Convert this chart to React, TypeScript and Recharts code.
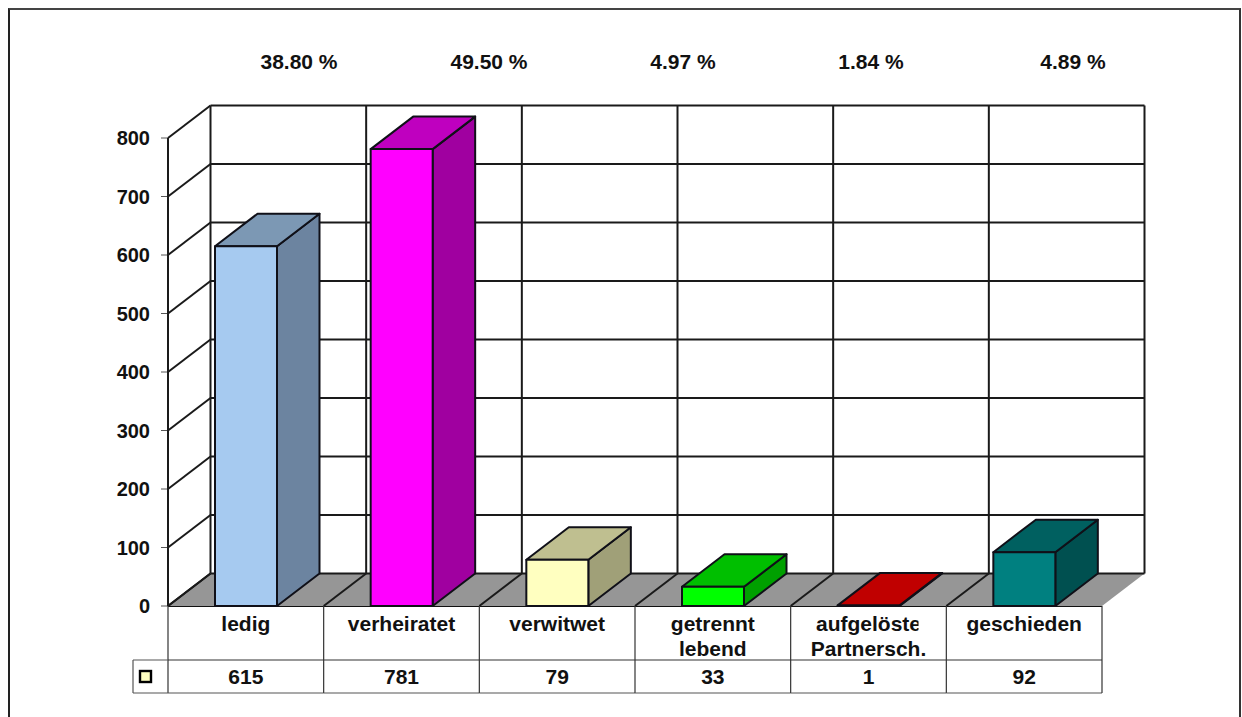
import { BarChart, Bar, XAxis, YAxis } from "recharts";

const CATEGORIES = ["ledig", "verheiratet", "verwitwet", "getrennt\nlebend", "aufgelöste\nPartnersch.", "geschieden"];
const VALUES = [615, 781, 79, 33, 1, 92];
const Y_TICKS = [0, 100, 200, 300, 400, 500, 600, 700, 800];
const PERCENTS = ["38.80 %", "49.50 %", "4.97 %", "1.84 %", "4.89 %"];

const PERCENT_X = [299, 489, 683, 871, 1073];
const FRONT = ["#A6CAF0", "#FF00FF", "#FFFFC0", "#00FF00", "#C00000", "#008080"];
const TOP = ["#7C98B4", "#BF00BF", "#BFBF90", "#00BF00", "#C00000", "#006060"];
const SIDE = ["#6C84A0", "#A000A0", "#A0A078", "#00A000", "#A00000", "#005050"];

const W = 1242;
const H = 717;
const LEFT = 168;
const RIGHT = 1102;
const TOP_Y = 138;
const BOTTOM_Y = 606;
const DX = 42.5;
const DY = 32.5;
const STEP = (RIGHT - LEFT) / CATEGORIES.length;
const ROW1 = 660;
const ROW2 = 693;
const INK = "#1a1a1a";
const FONT = "'Liberation Sans', Arial, sans-serif";

const textStyle = { fontFamily: FONT, fontSize: 21, fontWeight: 700, fill: "#111" };

function YTick({ x, y, payload }: any) {
  return (
    <g>
      {payload.value === 0 && (
        <polygon
          points={`${LEFT},${BOTTOM_Y} ${LEFT + DX},${BOTTOM_Y - DY} ${RIGHT + DX},${BOTTOM_Y - DY} ${RIGHT},${BOTTOM_Y}`}
          fill="#969696"
        />
      )}
      <line x1={LEFT} y1={y} x2={LEFT + DX} y2={y - DY} stroke={INK} strokeWidth={2} />
      <line x1={LEFT + DX} y1={y - DY} x2={RIGHT + DX} y2={y - DY} stroke={INK} strokeWidth={2} />
      <line x1={LEFT - 7} y1={y} x2={LEFT} y2={y} stroke="#555" strokeWidth={1} />
      <text x={150} y={y + 7} textAnchor="end" style={{ ...textStyle, fontSize: 20 }}>
        {payload.value}
      </text>
    </g>
  );
}

function XTick({ x, payload, index }: any) {
  const i = payload.index ?? index;
  const left = x - STEP / 2;
  const right = x + STEP / 2;
  const lines = CATEGORIES[i].split("\n");
  return (
    <g>
      <line x1={left + DX} y1={TOP_Y - DY} x2={left + DX} y2={BOTTOM_Y - DY} stroke={INK} strokeWidth={2} />
      <line x1={left} y1={BOTTOM_Y} x2={left + DX} y2={BOTTOM_Y - DY} stroke={INK} strokeWidth={2} />
      <line x1={left} y1={BOTTOM_Y} x2={left} y2={ROW2} stroke="#333" strokeWidth={1.2} />
      <line x1={left} y1={ROW1} x2={right} y2={ROW1} stroke="#333" strokeWidth={1.2} />
      <line x1={left} y1={ROW2} x2={right} y2={ROW2} stroke="#555" strokeWidth={1.2} />
      {i === CATEGORIES.length - 1 && (
        <>
          <line x1={right + DX} y1={TOP_Y - DY} x2={right + DX} y2={BOTTOM_Y - DY} stroke={INK} strokeWidth={2} />
          <line x1={right} y1={BOTTOM_Y} x2={right} y2={ROW2} stroke="#333" strokeWidth={1.2} />
        </>
      )}
      {i === 0 && (
        <>
          <line x1={LEFT} y1={TOP_Y} x2={LEFT} y2={BOTTOM_Y} stroke={INK} strokeWidth={2} />
          <line x1={133} y1={ROW1} x2={left} y2={ROW1} stroke="#555" strokeWidth={1.2} />
          <line x1={133} y1={ROW2} x2={left} y2={ROW2} stroke="#555" strokeWidth={1.2} />
          <line x1={133} y1={ROW1} x2={133} y2={ROW2} stroke="#555" strokeWidth={1.2} />
          <rect x={140} y={671} width={11} height={11} fill={FRONT[2]} stroke="#000" strokeWidth={2.4} />
        </>
      )}
      {lines.map((line: string, k: number) => (
        <text
          key={k}
          x={x}
          y={631 + k * 25}
          textAnchor="middle"
          style={textStyle}
          clipPath={line === "aufgelöste" ? "url(#cut-label)" : undefined}
        >
          {line}
        </text>
      ))}
      <text x={x} y={684} textAnchor="middle" style={textStyle}>
        {VALUES[i]}
      </text>
      {i === 4 && (
        <clipPath id="cut-label" clipPathUnits="userSpaceOnUse">
          <rect x={left} y={BOTTOM_Y} width={x + 50 - left} height={ROW1 - BOTTOM_Y} />
        </clipPath>
      )}
    </g>
  );
}

function Box({ x, y, width, height, index }: any) {
  const l = x;
  const r = x + width;
  const b = y + height;
  const stroke = { stroke: "#101018", strokeWidth: 2, strokeLinejoin: "round" as const };
  return (
    <g>
      <polygon points={`${r},${b} ${r + DX},${b - DY} ${r + DX},${y - DY} ${r},${y}`} fill={SIDE[index]} {...stroke} />
      <polygon points={`${l},${y} ${l + DX},${y - DY} ${r + DX},${y - DY} ${r},${y}`} fill={TOP[index]} {...stroke} />
      <rect x={l} y={y} width={width} height={height} fill={FRONT[index]} {...stroke} />
    </g>
  );
}

const layer = { position: "absolute" as const, left: 0, top: 0 };

export default function App() {
  const data = CATEGORIES.map((name, i) => ({ name, value: VALUES[i] }));
  return (
    <div style={{ ...layer, width: W, height: H, background: "#fff", overflow: "hidden" }}>
      <div
        style={{
          position: "absolute",
          left: 8,
          top: 8,
          width: 1229,
          height: 720,
          borderTop: "2px solid #444",
          borderLeft: "2px solid #222",
          borderRight: "2px solid #333",
        }}
      />
      {PERCENTS.map((p, i) => (
        <div
          key={p}
          style={{
            position: "absolute",
            left: PERCENT_X[i] - 60,
            width: 120,
            top: 51,
            textAlign: "center",
            fontFamily: FONT,
            fontSize: 21,
            fontWeight: 700,
            color: "#111",
            lineHeight: "22px",
          }}
        >
          {p}
        </div>
      ))}
      {/* walls, floor and table: the axes sit above the bars in one chart, so they get their own chart below */}
      <div style={layer}>
        <BarChart width={W} height={H} data={data} margin={{ top: TOP_Y, right: W - RIGHT, bottom: 0, left: 0 }}>
          <YAxis width={LEFT} domain={[0, 800]} ticks={Y_TICKS} interval={0} axisLine={false} tickLine={false} tick={YTick} />
          <XAxis
            dataKey="name"
            height={H - BOTTOM_Y}
            interval={0}
            axisLine={{ stroke: "#111", strokeWidth: 2 }}
            tickLine={false}
            tick={XTick}
          />
          <Bar dataKey="value" fill="none" isAnimationActive={false} />
        </BarChart>
      </div>
      <div style={layer}>
        <BarChart
          width={W}
          height={H}
          data={data}
          margin={{ top: TOP_Y, right: W - RIGHT, bottom: H - BOTTOM_Y, left: LEFT }}
          barCategoryGap={0}
        >
          <YAxis hide domain={[0, 800]} />
          <XAxis hide dataKey="name" />
          <Bar dataKey="value" barSize={62} isAnimationActive={false} shape={Box} />
        </BarChart>
      </div>
    </div>
  );
}
